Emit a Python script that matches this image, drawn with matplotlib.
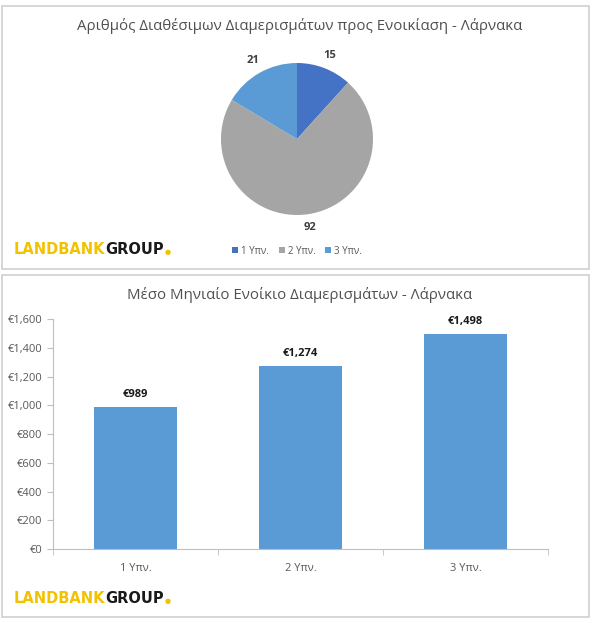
import matplotlib.pyplot as plt
from matplotlib.patches import Rectangle

plt.rcParams['font.family'] = ['Open Sans', 'DejaVu Sans']

categories = ["1 Υπν.", "2 Υπν.", "3 Υπν."]
pie_counts = [15, 92, 21]
rents = [989, 1274, 1498]
yticks = [0, 200, 400, 600, 800, 1000, 1200, 1400, 1600]

pie_colors = ["#4472C4", "#A5A5A5", "#5B9BD5"]
bar_color = "#5B9BD5"
text_gray = "#595959"
yellow = "#F2C200"

fig = plt.figure(figsize=(6, 6.23), dpi=100)
W, H = 600, 623


def fx(px):
    return px / W


def fy(py):
    return 1 - py / H


# panel borders
for x0, y0, x1, y1 in [(2, 6, 589, 269), (2, 275, 589, 617)]:
    fig.patches.append(Rectangle((fx(x0), fy(y1)), fx(x1 - x0), (y1 - y0) / H,
                                 transform=fig.transFigure, fill=False,
                                 edgecolor="#D0D0D0", linewidth=1.2))


def logo(x, base):
    t1 = fig.text(fx(x), fy(base), "LANDBANK", color=yellow, fontsize=10.5,
                  fontweight="bold", family="DejaVu Sans", va="baseline")
    fig.canvas.draw()
    bb = t1.get_window_extent()
    t2 = fig.text(bb.x1 / W, fy(base), "GROUP", color="#1A1A1A", fontsize=10.5,
                  fontweight="bold", family="DejaVu Sans", va="baseline")
    fig.canvas.draw()
    bb2 = t2.get_window_extent()
    fig.text(bb2.x1 / W + 0.001, fy(base - 2.5), "●", color=yellow, fontsize=5,
             family="DejaVu Sans", va="center")


# ---- pie ----
fig.text(0.5, fy(26), "Αριθμός Διαθέσιμων Διαμερισμάτων προς Ενοικίαση - Λάρνακα",
         ha="center", va="center", fontsize=10.8, color="#505050")

cx, cy, r = 297, 139, 76
ax1 = fig.add_axes([fx(cx - r), fy(cy + r), 2 * r / W, 2 * r / H])
wedges, texts = ax1.pie(pie_counts, colors=pie_colors, startangle=90,
                        counterclock=False, labels=[str(v) for v in pie_counts],
                        labeldistance=1.18,
                        textprops=dict(fontsize=8, fontweight="bold", color="#404040"))
for t in texts:
    t.set_ha("center")
    t.set_va("center")
ax1.set_xlim(-1, 1)
ax1.set_ylim(-1, 1)
ax1.set_aspect("auto")
ax1.axis("off")

fig.legend(wedges, categories, loc="center", bbox_to_anchor=(fx(297), fy(251)),
           ncol=3, frameon=False, fontsize=7, handlelength=0.6, handleheight=0.6,
           handletextpad=0.3, columnspacing=1.0, labelcolor=text_gray)

logo(14, 254)

# ---- bars ----
fig.text(0.5, fy(295), "Μέσο Μηνιαίο Ενοίκιο Διαμερισμάτων - Λάρνακα",
         ha="center", va="center", fontsize=10.8, color="#505050")

ax2 = fig.add_axes([fx(53), fy(549), fx(495), (549 - 319) / H])
x = list(range(len(categories)))
bars = ax2.bar(x, rents, width=0.5, color=bar_color)
for xi, v in zip(x, rents):
    ax2.text(xi, v + 45, "€{:,}".format(v), ha="center", va="bottom",
             fontsize=8, fontweight="bold", color="#1A1A1A")
ax2.set_xlim(-0.5, len(categories) - 0.5)
ax2.set_ylim(0, 1600)
ax2.set_yticks(yticks)
ax2.set_yticklabels(["€{:,}".format(v) for v in yticks])
ax2.set_xticks(x)
ax2.set_xticklabels(categories)
ax2.set_xticks([-0.5, 0.5, 1.5, 2.5], minor=True)
ax2.tick_params(axis="x", which="major", length=0, labelsize=8,
                labelcolor=text_gray, pad=10)
ax2.tick_params(axis="x", which="minor", length=4, color="#BFBFBF")
ax2.tick_params(axis="y", length=4, color="#BFBFBF", labelsize=8,
                labelcolor=text_gray)
for s in ["top", "right"]:
    ax2.spines[s].set_visible(False)
for s in ["left", "bottom"]:
    ax2.spines[s].set_color("#BFBFBF")

logo(14, 603)

fig.savefig("out.png", dpi=100)
